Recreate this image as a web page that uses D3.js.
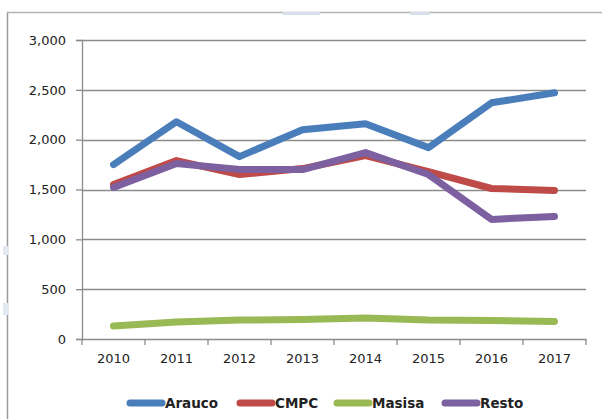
<!DOCTYPE html>
<html>
<head>
<meta charset="utf-8">
<script src="https://cdn.jsdelivr.net/npm/d3@7"></script>
<style>
  body { margin: 0; background: #fff; }
  svg text { font-family: "DejaVu Sans", Verdana, sans-serif; fill: #222; }
</style>
</head>
<body>
<div id="chart"></div>
<script>
const years = ["2010", "2011", "2012", "2013", "2014", "2015", "2016", "2017"];
const arauco = [1750, 2180, 1830, 2100, 2160, 1920, 2370, 2470];
const cmpc = [1550, 1790, 1650, 1710, 1840, 1680, 1510, 1490];
const masisa = [130, 170, 190, 195, 210, 190, 185, 175];
const resto = [1520, 1760, 1700, 1700, 1870, 1650, 1200, 1230];
const yTicks = [0, 500, 1000, 1500, 2000, 2500, 3000];

const series = [
  { name: "Arauco", values: arauco, color: "#4a7ebb" },
  { name: "CMPC", values: cmpc, color: "#be4b48" },
  { name: "Masisa", values: masisa, color: "#98b954" },
  { name: "Resto", values: resto, color: "#7d60a0" }
];

const width = 602, height = 419;
const plotLeft = 82, plotRight = 586, plotTop = 40, plotBottom = 339;

const svg = d3.select("#chart").append("svg")
  .attr("width", width)
  .attr("height", height);

// outer frame (cropped screenshot edge)
svg.append("line").attr("x1", 7.5).attr("x2", 7.5).attr("y1", 12).attr("y2", height)
  .attr("stroke", "#9a9a9a").attr("stroke-width", 1.5);
svg.append("line").attr("x1", 7).attr("x2", width).attr("y1", 12.5).attr("y2", 12.5)
  .attr("stroke", "#b4b4b4").attr("stroke-width", 1.5);
// faint remnants
[[3, 246, 5, 9], [3, 303, 5, 12]].forEach(r => {
  svg.append("rect").attr("x", r[0]).attr("y", r[1]).attr("width", r[2]).attr("height", r[3])
    .attr("fill", "#e2e9f2");
});
[[283, 12, 37, 3], [410, 12, 20, 3]].forEach(r => {
  svg.append("rect").attr("x", r[0]).attr("y", r[1]).attr("width", r[2]).attr("height", r[3])
    .attr("fill", "#d6dfeb");
});

const x = d3.scaleBand().domain(years).range([plotLeft, plotRight]);
const y = d3.scaleLinear().domain([0, 3000]).range([plotBottom, plotTop]);

// gridlines
svg.append("g").selectAll("line")
  .data(yTicks.filter(d => d > 0))
  .enter().append("line")
  .attr("x1", plotLeft).attr("x2", plotRight)
  .attr("y1", d => Math.round(y(d)) + 0.5).attr("y2", d => Math.round(y(d)) + 0.5)
  .attr("stroke", "#8c8c8c").attr("stroke-width", 1.3);

// y axis
const yAxis = svg.append("g")
  .attr("transform", `translate(${plotLeft},0)`)
  .call(d3.axisLeft(y).tickValues(yTicks).tickSize(6).tickPadding(10)
    .tickFormat(d3.format(",")));
yAxis.select(".domain").attr("stroke", "#8c8c8c").attr("stroke-width", 1.3);
yAxis.selectAll(".tick line").attr("stroke", "#8c8c8c").attr("stroke-width", 1.3);
yAxis.selectAll("text").attr("font-size", "13px").attr("font-family", "DejaVu Sans")
  .attr("fill", "#222");

// x axis
const xAxis = svg.append("g")
  .attr("transform", `translate(0,${plotBottom})`)
  .call(d3.axisBottom(x).tickSize(0).tickPadding(15));
xAxis.select(".domain").attr("stroke", "#8c8c8c").attr("stroke-width", 1.3);
xAxis.selectAll("text").attr("font-size", "13px").attr("font-family", "DejaVu Sans")
  .attr("fill", "#222");
const bounds = years.map(d => x(d)).concat([plotRight]);
svg.append("g").selectAll("line")
  .data(bounds).enter().append("line")
  .attr("x1", d => d).attr("x2", d => d)
  .attr("y1", plotBottom).attr("y2", plotBottom + 6)
  .attr("stroke", "#8c8c8c").attr("stroke-width", 1.3);

// lines
const line = d3.line()
  .x((d, i) => x(years[i]) + x.bandwidth() / 2)
  .y(d => y(d));

svg.append("g").selectAll("path")
  .data(series)
  .enter().append("path")
  .attr("d", d => line(d.values))
  .attr("fill", "none")
  .attr("stroke", d => d.color)
  .attr("stroke-width", 7)
  .attr("stroke-linecap", "round")
  .attr("stroke-linejoin", "round");

// legend
const legendX = [128, 238, 335, 443];
const legend = svg.append("g").selectAll("g")
  .data(series).enter().append("g")
  .attr("transform", (d, i) => `translate(${legendX[i]},403)`);
legend.append("line")
  .attr("x1", 2).attr("x2", 34).attr("y1", 0).attr("y2", 0)
  .attr("stroke", d => d.color).attr("stroke-width", 7)
  .attr("stroke-linecap", "round");
legend.append("text")
  .attr("x", 37).attr("y", 5)
  .attr("font-size", "13.5px").attr("font-weight", "bold")
  .attr("fill", "#111")
  .text(d => d.name);
</script>
</body>
</html>
